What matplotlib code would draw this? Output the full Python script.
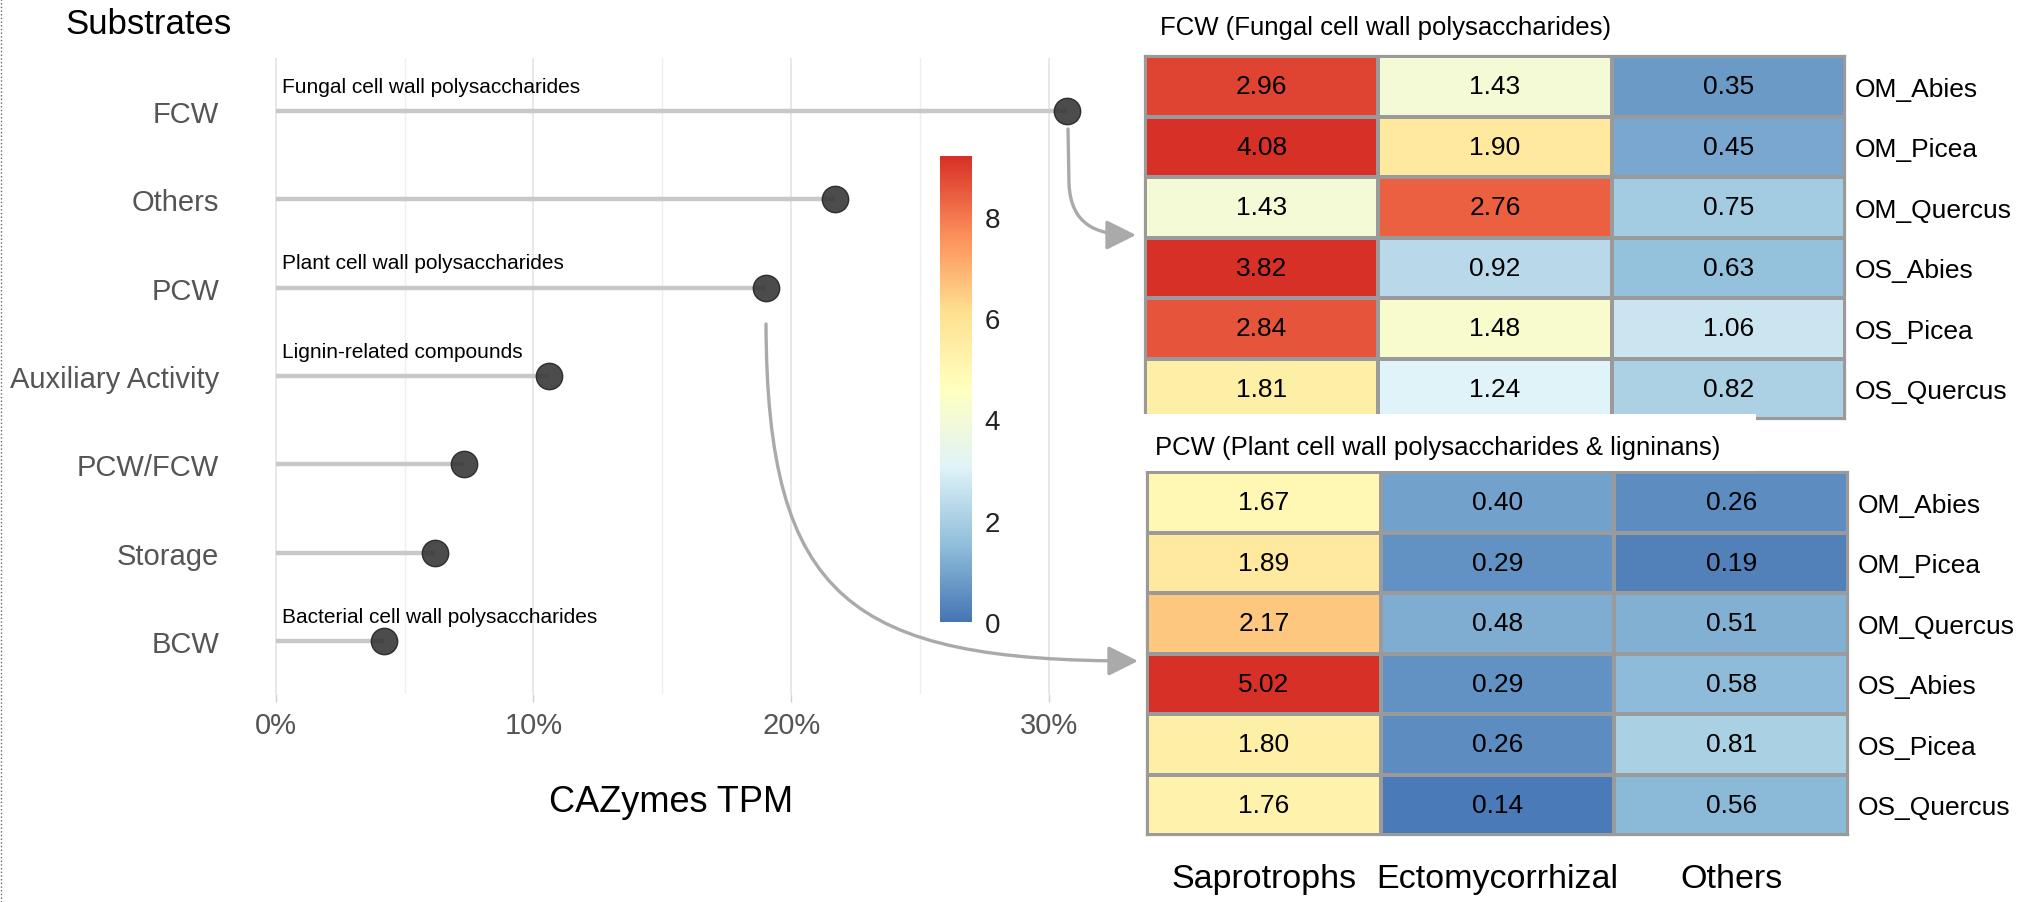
import matplotlib
matplotlib.use("Agg")
import matplotlib.pyplot as plt
import matplotlib.colors as mcolors
import matplotlib.patches as mpatches
from matplotlib.path import Path
from matplotlib.lines import Line2D
import numpy as np

plt.rcParams["font.family"] = ["Liberation Sans", "DejaVu Sans"]

# --- dados -------------------------------------------------------------
substrates = ["FCW", "Others", "PCW", "Auxiliary Activity", "PCW/FCW", "Storage", "BCW"]
tpm_pct = [30.7, 21.7, 19.0, 10.6, 7.3, 6.2, 4.2]
substrate_notes = {
    "FCW": "Fungal cell wall polysaccharides",
    "PCW": "Plant cell wall polysaccharides",
    "Auxiliary Activity": "Lignin-related compounds",
    "BCW": "Bacterial cell wall polysaccharides",
}

sites = ["OM_Abies", "OM_Picea", "OM_Quercus", "OS_Abies", "OS_Picea", "OS_Quercus"]
guilds = ["Saprotrophs", "Ectomycorrhizal", "Others"]
fcw_vals = [[2.96, 1.43, 0.35],
            [4.08, 1.90, 0.45],
            [1.43, 2.76, 0.75],
            [3.82, 0.92, 0.63],
            [2.84, 1.48, 1.06],
            [1.81, 1.24, 0.82]]
pcw_vals = [[1.67, 0.40, 0.26],
            [1.89, 0.29, 0.19],
            [2.17, 0.48, 0.51],
            [5.02, 0.29, 0.58],
            [1.80, 0.26, 0.81],
            [1.76, 0.14, 0.56]]
cbar_ticks = [0, 2, 4, 6, 8]

# paleta tipo pheatmap (RdYlBu invertida, 7 cores)
PAL = ["#4575B4", "#91BFDB", "#E0F3F8", "#FFFFBF", "#FEE090", "#FC8D59", "#D73027"]
cmap = mcolors.LinearSegmentedColormap.from_list("rdylbu7", PAL, N=256)
C_LINE = "#c8c8c8"
C_DOT = "#333333"
C_GRID = "#e6e6e6"
C_ARROW = "#aaaaaa"

W, H = 2018, 903
fig = plt.figure(figsize=(W / 100, H / 100), dpi=100)
fig.patch.set_facecolor("white")


def fr(x, y):
    """pixel (origem no topo) -> fração da figura"""
    return x / W, 1 - y / H


def box(x0, y0, x1, y1):
    return [x0 / W, 1 - y1 / H, (x1 - x0) / W, (y1 - y0) / H]


# --- lollipop ----------------------------------------------------------
ax = fig.add_axes(box(236, 59, 1106, 695))
ypos = np.arange(len(substrates))[::-1] + 1
ax.hlines(ypos, 0, tpm_pct, color=C_LINE, lw=3.2, zorder=2)
ax.scatter(tpm_pct, ypos, s=19 ** 2, color=C_DOT, alpha=0.88,
           edgecolor="#222222", linewidth=1, zorder=3)
for name, y in zip(substrates, ypos):
    if name in substrate_notes:
        ax.text(0.25, y + 0.28, substrate_notes[name], fontsize=15,
                va="center", ha="left", color="black")

ax.set_xlim(-1.535, 32.2)
ax.set_ylim(0.4, len(substrates) + 0.6)
ax.set_xticks([0, 10, 20, 30])
ax.set_xticklabels([f"{v}%" for v in [0, 10, 20, 30]])
ax.set_xticks([5, 15, 25], minor=True)
ax.set_yticks(ypos)
ax.set_yticklabels(substrates)
ax.grid(which="major", axis="x", color=C_GRID, lw=1.3, zorder=0)
ax.grid(which="minor", axis="x", color="#efefef", lw=1.0, zorder=0)
ax.set_axisbelow(True)
for s in ax.spines.values():
    s.set_visible(False)
ax.tick_params(axis="y", length=0, pad=12, labelsize=21, labelcolor="#555555")
ax.tick_params(axis="x", which="major", length=6, width=1, color="#d0d0d0",
               pad=6, labelsize=21, labelcolor="#555555")
ax.tick_params(axis="x", which="minor", length=0)

fig.text(*fr(65, 25), "Substrates", fontsize=25, va="center", ha="left")
fig.text(*fr(671, 803), "CAZymes TPM", fontsize=26, va="center", ha="center")

# --- barra de cores ----------------------------------------------------
cax = fig.add_axes(box(940, 157, 972, 623))
sm = plt.cm.ScalarMappable(norm=mcolors.Normalize(0, 9.2), cmap=cmap)
cb = fig.colorbar(sm, cax=cax, ticks=cbar_ticks)
cb.outline.set_visible(False)
cax.tick_params(length=0, pad=9, labelsize=20, labelcolor="#222222")

# --- heatmaps ----------------------------------------------------------
# escala por trechos: valores de ancoragem -> posição na paleta
anchor_v = [0.1, 0.6, 1.24, 1.55, 2.05, 2.45, 3.1]
anchor_p = [0.0, 1 / 6, 2 / 6, 3 / 6, 4 / 6, 5 / 6, 1.0]
hm_norm = mcolors.FuncNorm(
    (lambda v: np.interp(v, anchor_v, anchor_p),
     lambda p: np.interp(p, anchor_p, anchor_v)),
    vmin=anchor_v[0], vmax=anchor_v[-1], clip=True)


def draw_heat(rect, vals, title, title_xy, show_cols):
    hax = fig.add_axes(rect)
    arr = np.array(vals)
    hax.pcolormesh(arr, cmap=cmap, norm=hm_norm, edgecolors="#9a9a9a",
                   linewidth=1.6)
    hax.set_xlim(0, arr.shape[1])
    hax.set_ylim(arr.shape[0], 0)
    for i in range(arr.shape[0]):
        for j in range(arr.shape[1]):
            hax.text(j + 0.5, i + 0.5, f"{arr[i, j]:.2f}", ha="center",
                     va="center", fontsize=19, color="black")
    hax.yaxis.tick_right()
    hax.set_yticks(np.arange(arr.shape[0]) + 0.5)
    hax.set_yticklabels(sites)
    hax.tick_params(axis="y", length=0, pad=7, labelsize=19)
    if show_cols:
        hax.set_xticks(np.arange(arr.shape[1]) + 0.5)
        hax.set_xticklabels(guilds, fontsize=24.5)
        hax.tick_params(axis="x", length=0, pad=20)
    else:
        hax.set_xticks([])
    for s in hax.spines.values():
        s.set_color("#9a9a9a")
        s.set_linewidth(1.6)
    fig.text(*title_xy, title, fontsize=18.5, ha="left", va="center", zorder=5)
    return hax


draw_heat(box(1145, 57, 1845, 420), fcw_vals,
          "FCW (Fungal cell wall polysaccharides)", fr(1160, 28), False)
draw_heat(box(1147, 473, 1848, 836), pcw_vals,
          "PCW (Plant cell wall polysaccharides & ligninans)", fr(1155, 448), True)

# faixa branca da montagem original sob o título do PCW
fig.add_artist(mpatches.Rectangle(fr(1138, 472), 618 / W, 57 / H,
                                  transform=fig.transFigure, facecolor="white",
                                  edgecolor="none", zorder=2))


# --- setas curvas --------------------------------------------------------
def curved_arrow(pts):
    verts = [fr(*p) for p in pts]
    codes = [Path.MOVETO] + [Path.LINETO] * (len(pts) - 4) + [Path.CURVE4] * 3
    arr = mpatches.FancyArrowPatch(path=Path(verts, codes),
                                   arrowstyle="-|>,head_length=0.7,head_width=0.35",
                                   mutation_scale=26, color=C_ARROW, lw=2.4,
                                   transform=fig.transFigure, zorder=4)
    fig.add_artist(arr)


curved_arrow([(1068, 130), (1069, 185), (1071, 225), (1095, 236), (1136, 236)])
curved_arrow([(766, 325), (767, 600), (850, 662), (1138, 662)])

# borda pontilhada à esquerda
fig.add_artist(Line2D([1 / W, 1 / W], [0, 1], transform=fig.transFigure,
                      color="#666666", lw=1, ls=":"))

fig.savefig("out.png", dpi=100, facecolor="white")
